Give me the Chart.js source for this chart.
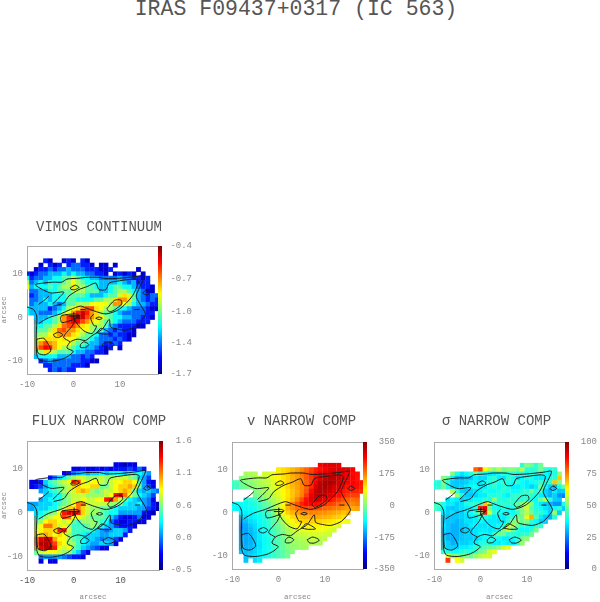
<!DOCTYPE html>
<html><head><meta charset="utf-8">
<script src="https://cdn.jsdelivr.net/npm/chart.js@4/dist/chart.umd.min.js"></script>
<style>
html,body{margin:0;padding:0;background:#fff;width:600px;height:602px;overflow:hidden}
canvas{position:absolute}
#main{position:absolute;left:0;top:-3px;width:592px;text-align:center;font:21.5px "Liberation Mono",monospace;color:#555;white-space:pre}
</style></head><body>
<div id="main">IRAS F09437+0317 (IC 563)</div>
<canvas id="c1"></canvas><canvas id="c2"></canvas><canvas id="c3"></canvas><canvas id="c4"></canvas>
<script>
const _ = null;
const mainTitle = "IRAS F09437+0317 (IC 563)";
const axisTicks = [-10, 0, 10];
const titles = ["VIMOS CONTINUUM", "FLUX NARROW COMP", "v NARROW COMP", "\u03C3 NARROW COMP"];

// each row: [first column in arcsec, values...]; rows run downward from topRow
const continuumTop = 13;
const continuumRows = [
[-6,-1.5,-1.6,_,_,-1.6,-1.5,-1.6,_,-1.5,-1.6],
[-7,-1.6,_,-1.5,-1.6,-1.5,_,-1.5,-1.4,-1.4,-1.5,-1.5,-1.6,_,-1.6,-1.6,_,-1.6],
[-8,-1.6,-1.5,-1.5,-1.4,-1.5,-1.4,-1.4,-1.3,-1.4,-1.4,-1.4,-1.5,-1.5,-1.5,-1.6,-1.6,-1.5,_,_,_,_,_,-1.6],
[-10,-1.5,-1.6,-1.5,-1.4,-1.4,-1.3,-1.3,-1.3,-1.2,-1.3,-1.2,-1.3,-1.3,-1.4,-1.4,-1.5,-1.5,-1.6,_,-1.6,-1.5,-1.6,-1.5,-1.6,_,-1.6],
[-10,-1.2,-1.5,-1.4,-1.4,-1.3,-1.3,-1.2,-1.2,-1.1,-1.1,-1.0,-1.1,-1.2,-1.2,-1.3,-1.3,-1.4,-1.4,-1.4,-1.4,-1.3,-1.4,-1.4,-1.5,-1.5,-1.6,-1.5],
[-10,-1,-1.4,-1.3,-1.2,-1.3,-1.2,-1.2,-1.2,-1.1,-1,-.9,-1,-1.1,-1.2,-1.2,-1.2,-1.3,-1.3,-1.3,-1.3,-1.2,-1.3,-1.4,-1.3,-1.5,-1.5,-1.5],
[-10,-.9,-1.3,-1.2,-1.2,-1.2,-1.1,-1.2,-1.1,-1,-1,-.85,-1,-1,-1.1,-1.1,-1.2,-1.3,-1.3,-1.2,-1.1,-1.1,-1.2,-1.2,-1.3,-1.4,-1.5,-1.5,-1.6],
[-9,-1.4,-1.4,-1.3,-1.3,-1.2,-1.2,-1.1,-1.1,-1.1,-1,-1,-1,-1.1,-1.1,-1.1,-1.3,-1.3,-1.2,-1.1,-1,-1,-1.1,-1.2,-1.3,-1.4,-1.6,-1.6],
[-9,-1.5,-1.4,-1.3,-1.3,-1.3,-1.2,-1.2,-1.2,-1.1,-1.1,-1.1,-1.1,-1.2,-1.3,-1.3,-1.3,-1.2,-1.1,-1.1,-.95,-.85,-.95,-1.1,-1.3,-1.4,-1.5,-1.4,-1.4],
[-9,-1.4,-1.4,-1.3,-1.2,-1.3,-1.2,-1.2,-1.2,-1.1,-1.1,-1.2,-1.2,-1.2,-1.2,-1.1,-1.1,-1,-1,-.85,-.75,-.75,-.85,-1.1,-1.3,-1.4,-1.5,-1.4,-1.5],
[-9,-1.4,-1.3,-1.3,-1.3,-1.2,-1.3,-1.4,-1.3,-1.1,-1.1,-1,-1,-1,-.9,-.9,-.9,-.9,-1,-.75,-.75,-.9,-1,-1.2,-1.3,-1.3,-1.4,-1.5,-1.5],
[-10,-1.2,-1.3,-1.3,-1.3,-1.3,-1.5,-1.4,-1.3,-1.2,-1,-.9,-.85,-.75,-.65,-.65,-.85,-.9,-1,-1,-1.1,-1.2,-1.2,-1.3,-1.4,-1.4,-1.4,-1.5,-1.6,-1.6],
[-10,-1.2,-1.3,-1.3,-1.4,-1.4,-1.4,-1.3,-1.2,-1,-.9,-.75,-.6,-.5,-.6,-.75,-.85,-1,-1.1,-1.1,-1.2,-1.3,-1.4,-1.4,-1.4,-1.4,-1.4,-1.5,-1.5],
[-8,-1.3,-1.3,-1.3,-1.2,-1.1,-1,-.75,-.6,-.5,-.4,-.5,-.65,-.75,-.85,-.9,-1,-1.1,-1.2,-1.2,-1.3,-1.3,-1.4,-1.4,-1.5,-1.5,-1.6],
[-8,-1.3,-1.3,-1.2,-1.2,-1.1,-1,-.75,-.6,-.55,-.55,-.65,-.75,-.85,-.9,-1,-1.1,-1.1,-1.2,-1.3,-1.4,-1.4,-1.4,-1.5,-1.5,-1.5],
[-8,-1.2,-1.2,-1.1,-1.1,-1,-.85,-.7,-.65,-.65,-.75,-.85,-.9,-1,-1,-1,-1.1,-1.3,-1.4,-1.5,-1.5,-1.5,-1.5,-1.6,-1.6],
[-8,-1.2,-1.1,-1.1,-1,-.85,-.7,-.65,-.75,-.75,-.85,-.9,-.9,-1,-1.1,-1.1,-1.3,-1.4,-1.5,-1.4,-1.5,-1.5,-1.6],
[-8,-1.1,-1,-1,-.9,-.85,-.75,-.75,-.75,-.85,-.9,-1,-1.1,-1.1,-1.2,-1.4,-1.4,-1.5,-1.4,-1.5,-1.5,-1.6,-1.6],
[-8,-1,-.9,-.85,-.85,-.85,-.9,-.85,-.9,-.9,-1,-1.1,-1.1,-1.2,-1.3,-1.4,-1.4,-1.4,-1.5,-1.4,-1.5,-1.6],
[-8,-1,-.75,-.65,-.75,-.8,-.9,-.9,-.9,-1,-1.1,-1.1,-1.2,-1.3,-1.3,-1.4,-1.5,-1.5,-1.4,-1.5],
[-8,-.85,-.65,-.55,-.6,-.8,-.9,-1,-1,-1.1,-1.2,-1.2,-1.3,-1.3,-1.4,-1.5,-1.6,-1.5,_,-1.6],
[-8,-1.1,-1,-.85,-.85,-1,-1.1,-1.1,-1.1,-1.2,-1.3,-1.3,-1.4,-1.4,-1.5,-1.5,-1.6],
[-8,-1.3,-1.2,-1.2,-1.2,-1.2,-1.3,-1.3,-1.3,-1.4,-1.4,-1.5,-1.4,-1.5],
[-7,-1.5,-1.4,-1.3,-1.4,-1.4,-1.4,-1.4,-1.4,-1.4,-1.5,-1.5,-1.6,-1.6],
[-6,-1.5,-1.5,-1.4,-1.4,-1.4,-1.4,-1.5,-1.5,-1.5,-1.6],
[-5,-1.5,-1.4,-1.5,-1.4,-1.5,-1.5]
];
const fluxTop = 11;
const fluxRows = [
[9,-.3,-.3,-.4,-.3,-.3],
[0,-.3,-.3,-.2,-.3,-.3,-.2,-.3,-.2,-.3,-.2,-.2,-.2,-.1,-.2,0,-.2],
[-2,-.3,-.2,0,.1,.2,.1,.2,.2,.3,.2,.3,.3,.3,.2,.3,.3,.3,.2,.1],
[-5,-.2,0,.2,.3,.5,.6,.7,.7,.6,.6,.6,.7,.6,.6,.7,.7,.7,.6,.5,.2,.1,-.1],
[-9,-.3,-.3,-.2,.2,.4,.5,.6,.7,.8,1.3,1.2,.8,.7,.8,.8,.7,.6,.7,.8,.8,.9,.9,.8,.4,.1,-.2,-.3],
[-9,-.3,-.2,-.1,.1,.3,.4,.5,.6,.7,.9,.9,.8,.8,.9,.9,.5,.5,.7,.8,.9,.9,1,.9,.5,.1,-.1,-.3],
[-7,.1,.2,.3,.4,.5,.6,.7,.7,.9,1,.9,.6,.5,.6,.7,.7,.8,.9,1,.9,.5,.2,.1,.2,.1,0],
[-6,.2,.2,.3,.3,.5,.6,.7,.7,.7,.6,.6,.6,.6,.7,.8,1.3,1.4,1.1,.8,.5,.3,.2,.1,-.1],
[-7,.1,.2,.3,.3,.3,.5,.6,.7,.7,.8,.7,.7,.8,.8,1.3,1.4,1,.7,.5,.3,.2,.1,.1,0,-.3],
[-10,.1,.1,.1,.2,.2,.2,.3,.4,.5,.6,.8,1.1,1.1,.7,.7,.7,.7,.7,.6,.6,.5,.3,.2,.2,.3,.1,0,-.2,-.4],
[-10,.1,.1,.2,.2,.2,.3,.3,.5,.7,.9,.9,1.1,.9,.7,.6,.6,.5,.5,.4,.3,.2,.2,.2,.2,.1,.1,-.1,-.2,-.4],
[-8,.2,.3,.4,.5,.6,.8,1.3,1.4,1.4,1.3,.9,.7,.6,.6,.5,.4,.3,.3,.1,.1,.1,.1,.1,-.2,-.3,-.4],
[-8,.3,.4,.6,.7,.8,.8,1.2,1.1,.8,.8,.7,.6,.5,.5,.5,.4,.2,0,-.2,-.3,-.3,-.2,0,-.3,-.3],
[-8,.5,.6,.8,.9,.9,.8,.7,.8,.5,.4,.6,.6,.6,.5,.4,.3,0,-.2,-.3,-.3,-.2,-.2,-.3,-.3],
[-8,.6,.8,1.1,1.1,.9,.7,.8,.6,.4,.4,.4,.5,.6,.5,.3,.2,.1,-.1,-.2,-.2,-.2,-.3],
[-8,.7,.8,.9,.9,.9,1.3,1.3,.7,.4,.4,.4,.4,.4,.2,.1,0,.1,.2,.2,.1,-.2],
[-8,.8,.9,1,.9,.8,.9,.8,.6,.4,.4,.3,.2,.2,.2,.1,.1,.2,.2,.2,-.2],
[-8,1.1,1.4,1.5,1.4,1,.8,.8,.6,.5,.4,.3,.2,.2,.1,0,.1,.1,-.1,-.3],
[-8,1.1,1.5,1.5,1.4,1.2,.9,.8,.6,.6,.4,.3,.2,.1,.1,.2,.2,.1,-.3],
[-8,.9,1.4,1.5,1.5,1.3,.8,.7,.8,.5,.4,.2,.1,0,-.1,-.3,-.3],
[-8,.5,.7,.8,.8,.8,.7,.6,.6,.4,.2,-.1,-.3],
[-7,0,.1,.1,.1,.1,0,-.1,-.2,-.2,-.3],
[-7,-.3,_,-.3,-.3]
];
const velocityTop = 11;
const velocityRows = [
[9,270,280,285,285,280],
[0,100,110,120,135,150,170,190,215,240,255,270,280,285,285,285,280,270],
[-7,25,30,35,_,55,60,75,95,110,125,145,160,180,200,225,250,270,285,290,295,290,280,270,260,255],
[-8,5,10,20,30,40,45,60,75,90,105,120,140,155,175,200,225,255,285,300,310,310,295,285,270,265,250],
[-10,-45,-40,-10,0,10,20,30,40,50,65,85,100,120,140,155,175,195,225,270,305,320,320,315,295,280,265,265,255,250],
[-10,-55,-45,-20,-10,0,10,20,30,45,60,75,95,115,135,150,170,195,235,285,315,320,310,290,280,265,250,260,255,240],
[-5,0,10,20,35,50,70,90,105,125,145,170,205,260,305,315,310,300,280,265,250,240,245,240,230],
[-5,-10,0,15,30,45,65,85,105,125,150,175,225,275,305,310,300,285,270,255,240,225,220,220],
[-7,-70,-60,-45,-25,-5,15,30,50,80,110,135,170,210,255,285,300,290,270,260,240,225,210,195,185,190],
[-10,-90,-85,-80,-80,-75,-60,-45,-25,-5,20,45,85,130,170,205,240,260,265,260,250,235,220,210,195,185,180,170,180],
[-10,-85,-90,-90,-85,-80,-70,-55,-40,-20,10,45,95,140,165,185,205,215,215,210,205,195,190,180,175,165,155,145,150],
[-8,-100,-95,-90,-80,-70,-55,-35,-5,45,90,120,140,155,165,170,175,170,165,165,155,150,140,125,140],
[-8,-120,-110,-100,-90,-80,-65,-50,-25,10,50,90,110,125,135,140,145,145,145,140,135,125,120,110],
[-8,-145,-130,-110,-100,-85,-70,-50,-30,-5,30,65,90,105,115,120,120,120,115,110,105,100,90,85,75],
[-8,-170,-145,-125,-110,-90,-75,-55,-35,-15,15,45,70,85,90,95,95,95,95,90,85,75,65],
[-8,-165,-150,-135,-115,-95,-80,-60,-40,-20,5,30,50,65,70,75,80,80,80,75,65,55],
[-8,-150,-150,-135,-120,-100,-80,-65,-45,-25,-5,20,35,45,50,55,60,60,60,55,50],
[-8,-140,-145,-140,-120,-100,-85,-65,-50,-30,-10,10,25,30,35,40,45,45,45,40],
[-8,-135,-145,-140,-120,-105,-85,-70,-50,-35,-15,5,15,20,25,30,35,30,30],
[-8,-130,-140,-135,-120,-105,-85,-70,-50,-35,-20,0,10,15,20,25],
[-8,-125,-130,-125,-115,-100,-85,-70,-55,-40,-25,-10,5],
[-7,-125,-115,-105,-90,-80,-65,-50,-40,-25,-10],
[-7,-125,_,-110,-95]
];
const sigmaTop = 11;
const sigmaRows = [
[9,42,50,48,42,48],
[-1,78,82,62,55,50,55,48,50,50,48,55,42,40,42,48,42,40,42],
[-6,50,40,35,38,42,48,42,38,35,36,38,42,40,42,40,42,38,42,42,40,38,36,40,52],
[-8,50,48,36,30,30,33,32,36,34,34,40,42,36,35,42,40,34,38,40,40,36,36,36,40,42,68],
[-10,42,40,50,42,33,32,32,33,36,36,35,38,40,42,40,42,40,38,42,38,36,38,40,42,40,42,68,50],
[-10,40,42,48,40,33,32,33,36,38,40,36,36,40,42,38,42,40,36,36,38,36,33,36,48,38,33,30,40,48],
[-6,55,42,33,32,33,35,36,40,38,38,40,42,40,38,38,42,42,48,42,42,33,30,36,32,33],
[-5,52,40,33,32,33,36,36,42,40,42,38,36,42,42,42,42,42,40,36,33,30,33,27,25],
[-7,35,38,36,33,35,36,38,38,42,40,52,42,40,42,42,42,42,42,40,38,48,55,42,33,32],
[-10,42,45,40,36,36,33,35,40,42,42,42,68,58,40,42,42,42,42,46,50,55,50,40,36,33,30,27,27,40],
[-10,45,42,38,33,32,33,35,36,36,40,85,90,48,40,38,42,38,40,48,50,58,46,40,38,35,33,38,42,33],
[-8,36,33,35,32,33,36,38,42,48,85,58,42,40,38,38,38,42,50,55,48,42,42,38,33,52,33],
[-8,33,32,32,32,33,35,36,36,42,40,38,36,36,36,40,42,50,48,60,70,46,36,32,30,42],
[-8,33,32,32,30,32,35,35,36,38,36,36,36,35,36,42,50,52,48,50,42,38,33,33],
[-8,35,32,30,30,32,33,36,36,35,35,36,36,38,42,55,55,48,42,42,38,42,42],
[-8,33,32,30,30,30,33,33,35,36,36,35,36,38,50,58,48,42,38,38,42,48],
[-8,33,30,30,30,32,33,33,35,38,38,36,42,48,48,42,42,40,42,42,48],
[-8,35,30,30,30,32,33,33,33,36,38,40,40,38,36,36,38,42,48,52],
[-8,36,33,30,32,33,33,35,36,40,42,40,36,36,38,36,36,42,52],
[-8,40,33,33,33,36,36,38,42,42,46,48,48,52,58,60],
[-8,42,40,38,38,40,42,42,42,48,50,58,60],
[-7,58,52,50,48,50,48,52,55,58,58],
[-7,82,_,62,58]
];

// colour-bar ranges and tick labels
const continuumScale = [-1.7, -0.4], fluxScale = [-0.5, 1.6], velocityScale = [-350, 350], sigmaScale = [0, 100];
const continuumTicks = [-1.7,-1.38,-1.07,-0.73,-0.4], continuumLabels = ["-1.7","-1.4","-1.0","-0.7","-0.4"];
const fluxTicks = [-0.5,0.03,0.55,1.08,1.6], fluxLabels = ["-0.5","0.0","0.6","1.1","1.6"];
const velocityTicks = [-350,-175,0,175,350], velocityLabels = ["-350","-175","0","175","350"];
const sigmaTicks = [0,25,50,75,100], sigmaLabels = ["0","25","50","75","100"];

// contour traces, arcsec
const contourOuter = [[-10,2.4],[-8.6,1.8],[-7.9,.3],[-8,-4],[-7.9,-8.5],[-7.3,-9.8],[-5,-10.1],[-2.5,-9.6],[-1,-8.8],[-.05,-7.8],[-1.4,-7],[-.66,-5.6],[.9,-5],[2.6,-5.3],[4,-4.2],[6.2,-2.7],[7.7,-.45],[8,-2.2],[9.5,-2.7],[11.3,-2.9],[13.5,-2],[15,-.3],[15.5,.8],[14.2,3.3],[13.5,4.9],[14.2,6.8],[15.3,9.6],[13.5,9.4],[9.9,9],[7,8.9],[5.5,9.2],[2.6,9.2],[1.2,9],[-1.4,8.8],[-2.5,8.1],[-4.3,8.1],[-6.4,7.9],[-8.2,7.5],[-6.5,6.3],[-4.8,5.6],[-2.1,5.8],[-3.5,4.1],[-4.5,3.1]];
const contourWestArc = [[-7.5,3],[-6.1,4.1],[-5.3,4.9]];
const contourBand = [[-4.3,2.6],[-2.1,3.3],[-1,4.9],[1.2,6.4],[3,7.1],[4.8,7.9],[5.5,6.4],[7,6.4],[7.7,7.9],[9.9,8.4],[13.1,8.8],[14,8.4],[12.75,5],[9.9,1.9],[7,.8],[4.4,1.5],[2.6,2.2],[1.5,2.6],[-.66,1.8],[-2.8,.8],[-5.4,-.1],[-7.5,-1.4]];
const contourNucleusDrop = [[.4,-.45],[-.3,-2],[-1.8,-3.9],[-2.1,-4.65],[-.7,-5.6]];
const contourSouthArc = [[.07,-.1],[.8,-1.5],[2.25,-3.1],[4,-3.7],[5,-2],[4.4,-1.9],[3.7,-.1],[4.4,.8]];
const contourEdge = [[-8.3,-.5],[-8.3,-8.6]];
const contourPeakN = [[-.66,6.8],[.4,7.4],[1.2,6.9],[.4,6.4],[-.5,6.4],[-.66,6.8]];
const contourPeakNE = [[7.2,2],[8.8,3.9],[10.2,4],[10.4,3.1],[8.8,1.7],[7.7,1.3],[7.2,2]];
const contourNucleus = [[-2.8,-.2],[-2.5,.45],[.4,.8],[1.2,.5],[.07,-.45],[-2.5,-1.2],[-2.8,-.2]];
const contourPeakW = [[-4.3,-3.9],[-3.2,-3.4],[-2.3,-4],[-3.2,-4.65],[-4.1,-4.4],[-4.3,-3.9]];
const contourKnotE = [[4.8,-.2],[5.5,.1],[6.2,-.2],[5.5,-.5],[4.8,-.2]];
const contourKnotA = [[1.5,1.8],[2.6,1.8]];
const contourKnotB = [[13.1,1.8],[14.2,1.8]];
const contourKnotC = [[14.9,5.6],[15.6,6.2],[16.4,5.6],[15.6,5.2],[14.9,5.6]];
const contourKnotD = [[1.5,-6.2],[2.25,-5.6],[3.3,-6.2],[2.6,-6.9],[1.5,-6.9],[1.5,-6.2]];
const contourKnotF = [[6.2,-6.2],[7.4,-5.6],[8.8,-6.3],[7.7,-7],[6.6,-6.9],[6.2,-6.2]];
const contourKnotG = [[5,-3.5],[6,-2.5],[8,-3.7],[6.2,-3.8],[5,-3.5]];
const contourLobe = [[-7.9,-5],[-6.4,-4.8],[-5.4,-6.2],[-4.9,-7.7],[-6.1,-8.6],[-7.6,-8.2],[-7.9,-6.2],[-7.9,-5]];
const contourCross1 = [[-1,.3],[1.1,.3]];
const contourCross2 = [[.07,-.7],[.07,1.2]];
const contours = [contourOuter,contourWestArc,contourBand,contourNucleusDrop,contourSouthArc,contourPeakN,contourPeakNE,contourNucleus,contourPeakW,contourKnotE,contourKnotA,contourKnotB,contourKnotC,contourKnotD,contourKnotF,contourKnotG,contourLobe,contourCross1,contourCross2];

const FONT = '"Liberation Mono", monospace';
const clamp01 = v => Math.max(0, Math.min(1, v));
function jet(t) {
  t = clamp01(t);
  const c = k => Math.round(255 * clamp01(1.5 - Math.abs(4 * t - k)));
  return `rgb(${c(3)},${c(2)},${c(1)})`;
}
function cellsFrom(rows, top) {
  const out = [];
  rows.forEach((row, i) => row.slice(1).forEach((v, j) => {
    if (v !== null) out.push({ x: row[0] + j, y: top - i, v });
  }));
  return out;
}
const colorBar = {
  id: 'colorBar',
  beforeDraw(chart) {
    // right-aligned bar labels end short of the canvas edge
    const s = chart.scales.cb;
    s.right = s.left + chart.options.cbLabelWidth;
  },
  afterDraw(chart) {
    const a = chart.chartArea, ctx = chart.ctx;
    const g = ctx.createLinearGradient(0, a.bottom, 0, a.top);
    [0, .125, .375, .625, .875, 1].forEach(s => g.addColorStop(s, jet(s)));
    ctx.save();
    ctx.fillStyle = g;
    ctx.fillRect(a.right, a.top, 4, a.bottom - a.top);
    ctx.strokeStyle = '#aaa';
    ctx.lineWidth = 1;
    ctx.beginPath();
    ctx.moveTo(a.left, a.top + .5); ctx.lineTo(a.right, a.top + .5);
    ctx.stroke();
    ctx.restore();
  }
};
function panel(cfg) {
  const el = document.getElementById(cfg.id);
  el.style.left = cfg.left + 'px'; el.style.top = cfg.top + 'px';
  el.width = cfg.w; el.height = cfg.h;
  el.style.width = cfg.w + 'px'; el.style.height = cfg.h + 'px';
  const [lo, hi] = cfg.scale;
  const datasets = [{
    type: 'scatter',
    data: cellsFrom(cfg.rows, cfg.rowTop),
    pointStyle: 'rect', pointRadius: 3.45, pointBorderWidth: 0, pointHoverRadius: 3.45,
    backgroundColor: c => c.raw ? jet((c.raw.v - lo) / (hi - lo)) : '#000',
    order: 3
  }];
  contours.forEach(line => datasets.push({
    type: 'scatter', showLine: true,
    data: line.map(p => ({ x: p[0], y: p[1] })),
    borderColor: '#1c1c1c', borderWidth: 1, pointRadius: 0, tension: .25, order: 1
  }));
  datasets.push({
    type: 'scatter', showLine: true,
    data: contourEdge.map(p => ({ x: p[0], y: p[1] })),
    borderColor: '#777', borderWidth: 1.4, pointRadius: 0, order: 2
  });
  const tickC = cfg.xTickColor || '#888';
  new Chart(el, {
    type: 'scatter',
    data: { datasets },
    plugins: [colorBar],
    options: {
      responsive: false, animation: false, events: [],
      cbLabelWidth: cfg.cbLabelW,
      plugins: {
        legend: { display: false }, tooltip: { enabled: false },
        title: {
          display: true, text: cfg.title, color: '#555',
          font: { family: FONT, size: 14, weight: 'normal', lineHeight: 1 },
          padding: { top: cfg.titleTop, bottom: cfg.titleGap }
        }
      },
      scales: {
        x: {
          type: 'linear', min: -10, max: 18.2,
          afterBuildTicks: s => { s.ticks = axisTicks.map(value => ({ value })); },
          afterFit: s => { s.height = cfg.xH; },
          grid: { display: false, drawTicks: false }, border: { color: '#aaa' },
          ticks: { color: tickC, font: { family: FONT, size: 9 }, padding: 5, maxRotation: 0, callback: v => String(v) },
          title: { display: cfg.xTitle, text: 'arcsec', color: '#888', font: { family: FONT, size: 7.5 }, padding: { top: 7, bottom: 0 } }
        },
        y: {
          type: 'linear', min: -13, max: 16.4,
          afterBuildTicks: s => { s.ticks = axisTicks.map(value => ({ value })); },
          afterFit: s => { s.width = cfg.yW; },
          grid: { display: false, drawTicks: false }, border: { color: '#aaa' },
          ticks: { color: '#888', font: { family: FONT, size: 9 }, padding: 4, callback: v => String(v) },
          title: { display: cfg.yTitle, text: 'arcsec', color: '#888', font: { family: FONT, size: 7.5 }, padding: 0 }
        },
        cb: {
          type: 'linear', position: 'right', min: lo, max: hi,
          afterBuildTicks: s => { s.ticks = cfg.cbTicks.map(value => ({ value })); },
          afterFit: s => { s.width = cfg.cbW; },
          grid: { display: false, drawTicks: false }, border: { display: false },
          ticks: {
            color: '#888', font: { family: FONT, size: 9 }, crossAlign: 'far', padding: 6,
            callback: v => cfg.cbLabels[cfg.cbTicks.indexOf(v)]
          }
        }
      }
    }
  });
}
document.getElementById('main').textContent = mainTitle;
panel({ id:'c1', left:0, top:216, w:198, h:184, title:titles[0], titleTop:4, titleGap:12, xH:26, yW:27, cbW:40, cbLabelW:34,
  rows:continuumRows, rowTop:continuumTop, scale:continuumScale, cbTicks:continuumTicks, cbLabels:continuumLabels, xTitle:false, yTitle:true });
panel({ id:'c2', left:0, top:410, w:198, h:192, title:titles[1], titleTop:4, titleGap:13, xH:32, yW:27, cbW:39, cbLabelW:33, xTickColor:'#555',
  rows:fluxRows, rowTop:fluxTop, scale:fluxScale, cbTicks:fluxTicks, cbLabels:fluxLabels, xTitle:true, yTitle:true });
panel({ id:'c3', left:205, top:410, w:193, h:192, title:titles[2], titleTop:4, titleGap:14, xH:33, yW:27, cbW:35, cbLabelW:32,
  rows:velocityRows, rowTop:velocityTop, scale:velocityScale, cbTicks:velocityTicks, cbLabels:velocityLabels, xTitle:true, yTitle:false });
panel({ id:'c4', left:394, top:410, w:205, h:192, title:titles[3], titleTop:4, titleGap:14, xH:33, yW:40, cbW:34, cbLabelW:32,
  rows:sigmaRows, rowTop:sigmaTop, scale:sigmaScale, cbTicks:sigmaTicks, cbLabels:sigmaLabels, xTitle:true, yTitle:false });
</script>
</body></html>
